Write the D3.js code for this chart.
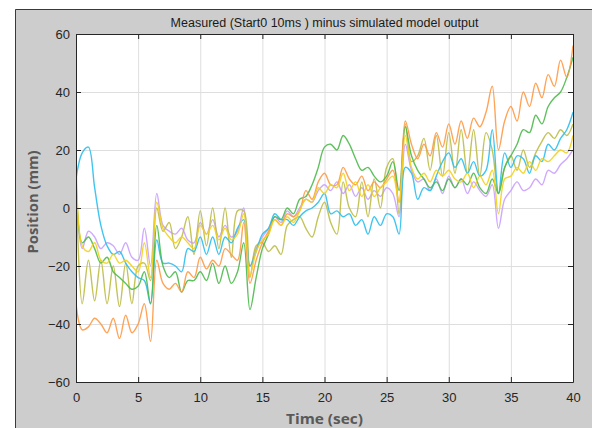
<!DOCTYPE html>
<html>
<head>
<meta charset="utf-8">
<script src="https://cdn.jsdelivr.net/npm/d3@7"></script>
<style>
  body { margin: 0; background: #fff; }
  svg { display: block; }
  .tick text { font-family: "Liberation Sans", Arial, sans-serif; font-size: 13px; fill: #262626; }
</style>
</head>
<body>
<script>
'use strict';

// sample times (sec), one sample every half second
var TIME = d3.range(0, 40.01, 0.5);

var X_TICKS = [0, 5, 10, 15, 20, 25, 30, 35, 40];
var Y_TICKS = [-60, -40, -20, 0, 20, 40, 60];

// position error (mm) per run
var purple = [5, -14, -8, -10, -14, -12, -13, -16, -12, -17, -18, -7, -20,
  5, -6, -8, -9, -7, -11, -12, -5, -9, -4, -10, -6, -10, -8, 0, -20,
  -14, -10, -7, -3, -5, -1, -3, 0, 3, 2, 6, 8, 6, 9, 5, 8, 4, 7, 3, 6,
  4, 7, 5, -3, 22, 13, 9, 10, 6, 10, 5, 11, 7, 10, 5, 9, 6, 4, 8, -7,
  3, 6, 9, 6, 7, 10, 8, 13, 12, 15, 17, 20];

var olive = [10, -33, -18, -32, -18, -33, -20, -34, -19, -33, -20, -19, -25,
  0, -8, -5, -14, -10, -3, -16, -1, -13, 0, -14, 0, -17, -1, -1, -24,
  -13, -12, -15, -13, -16, -6, -4, -3, -7, -10, -3, 2, -5, -9, 9, 0, -3,
  9, -3, 10, 0, 14, 17, -2, 29, 16, 18, 24, 13, 25, 11, 26, 12, 27, 12,
  27, 11, 26, 20, 5, 14, 18, 13, 20, 14, 19, 23, 26, 24, 27, 25, 29];

var cyan = [10, 19, 21, 7, -6, -13, -16, -15, -19, -22, -24, -25, -33,
  -11, -19, -19, -20, -22, -14, -15, -10, -16, -10, -16, -10, -12, -7, -4,
  -20, -15, -9, -7, -2, -4, -4, -6, -3, -1, 0, 2, 5, -2, -1, -3, -2, -6,
  -4, -9, -3, -6, -2, -3, -9, 14, 12, 3, 7, 6, 11, 16, 19, 14, 17, 12,
  16, 11, 13, 27, 5, 19, 14, 18, 17, 12, 18, 16, 22, 20, 24, 27, 33];

var green = [12, -12, -10, -14, -19, -17, -22, -24, -26, -28, -27, -22, -33,
  -6, -20, -24, -22, -29, -25, -25, -22, -25, -19, -26, -20, -26, -22, -12,
  -35, -24, -14, -9, -3, -4, 0, -2, 3, 4, 8, 14, 21, 22, 20, 25, 22, 17,
  13, 14, 11, 9, 11, 16, 6, 28, 18, 13, 10, 7, 9, 6, 10, 7, 10, 8, 12,
  7, 5, 10, 5, 14, 18, 22, 27, 26, 32, 29, 35, 38, 40, 45, 52];

var orange = [-33, -42, -41, -38, -40, -43, -38, -45, -37, -43, -40, -33, -46,
  -18, -26, -28, -26, -29, -22, -24, -17, -21, -18, -20, -14, -16, -18, -5,
  -26, -18, -12, -8, -4, -6, -2, -3, -1, 6, 3, 9, 12, 8, 8, 14, 10, 8, 11,
  6, 9, 7, 10, 13, 2, 30, 22, 17, 22, 18, 26, 21, 29, 22, 30, 24, 31, 28,
  33, 42, 20, 30, 35, 30, 40, 35, 43, 38, 46, 42, 51, 45, 56];

var yellow = [23, -13, -15, -12, -18, -19, -16, -19, -18, -20, -22, -12, -24,
  2, -7, -10, -12, -10, -12, -14, -6, -9, -6, -11, -7, -11, -9, -2, -23,
  -15, -11, -9, -4, -6, -3, -5, -1, 3, 2, 7, 5, 8, 7, 12, 6, 9, 4, 8, 4,
  7, 9, 11, 2, 25, 14, 10, 12, 9, 13, 11, 13, 10, 9, 12, 7, 11, 8, 13, -2,
  10, 11, 14, 12, 16, 13, 17, 16, 18, 20, 19, 25];

var SERIES = [purple, olive, cyan, green, orange, yellow];
var COLORS = ["#c9a0ff", "#bcbc45", "#2bbff0", "#4cba4c", "#ff9a45", "#f3d21a"];

var W = 592, H = 428;
var margin = {top: 34, left: 76, right: 19, bottom: 46};
var width = W - margin.left - margin.right;
var height = H - margin.top - margin.bottom;

var svg = d3.select("body").append("svg")
    .attr("width", W)
    .attr("height", H);

// figure background with its frame
svg.append("rect")
    .attr("x", 15).attr("y", 9)
    .attr("width", W - 15).attr("height", H - 9)
    .attr("fill", "#cdcdcd");
svg.append("path")
    .attr("d", "M15.5," + H + "V9.5H" + W)
    .attr("fill", "none")
    .attr("stroke", "#3a3a3a");

var xScale = d3.scaleLinear().domain([0, 40]).range([0, width]);
var yScale = d3.scaleLinear().domain([-60, 60]).range([height, 0]);

var g = svg.append("g")
    .attr("transform", "translate(" + margin.left + "," + margin.top + ")");

g.append("rect")
    .attr("width", width).attr("height", height)
    .attr("fill", "#fff");

// grid
g.append("g")
    .attr("class", "grid")
    .call(d3.axisBottom(xScale).tickValues(X_TICKS).tickSize(height).tickFormat(""))
    .call(function(s) {
      s.select(".domain").remove();
      s.selectAll("line").attr("stroke", "#dedede");
    });
g.append("g")
    .attr("class", "grid")
    .call(d3.axisLeft(yScale).tickValues(Y_TICKS).tickSize(-width).tickFormat(""))
    .call(function(s) {
      s.select(".domain").remove();
      s.selectAll("line").attr("stroke", "#dedede");
    });

// data
g.append("clipPath").attr("id", "clip")
  .append("rect").attr("width", width).attr("height", height);

var line = d3.line()
    .x(function(d, i) { return xScale(TIME[i]); })
    .y(function(d) { return yScale(d); })
    .curve(d3.curveCatmullRom.alpha(0.5));

g.append("g")
    .attr("clip-path", "url(#clip)")
    .selectAll("path")
    .data(SERIES)
    .enter()
    .append("path")
    .attr("fill", "none")
    .attr("stroke", function(d, i) { return COLORS[i]; })
    .attr("stroke-width", 1.4)
    .attr("stroke-opacity", 0.9)
    .attr("stroke-linejoin", "round")
    .attr("d", line);

// axes, ticks pointing inward
var styleAxis = function(s) {
  s.select(".domain").attr("stroke", "#262626");
  s.selectAll(".tick line").attr("stroke", "#262626");
};

g.append("g")
    .attr("transform", "translate(0," + height + ")")
    .call(d3.axisBottom(xScale).tickValues(X_TICKS).tickSizeInner(-5)
            .tickSizeOuter(0).tickPadding(11))
    .call(styleAxis);

g.append("g")
    .call(d3.axisLeft(yScale).tickValues(Y_TICKS).tickSizeInner(-5)
            .tickSizeOuter(0).tickPadding(6))
    .call(styleAxis);

g.append("g")
    .call(d3.axisTop(xScale).tickValues(X_TICKS).tickSizeInner(-5)
            .tickSizeOuter(0).tickFormat(""))
    .call(styleAxis);

g.append("g")
    .attr("transform", "translate(" + width + ",0)")
    .call(d3.axisRight(yScale).tickValues(Y_TICKS).tickSizeInner(-5)
            .tickSizeOuter(0).tickFormat(""))
    .call(styleAxis);

// labels
svg.append("text")
    .attr("x", margin.left + width / 2)
    .attr("y", 27)
    .attr("text-anchor", "middle")
    .attr("font-family", "Liberation Sans, Arial, sans-serif")
    .attr("font-size", 12.5)
    .attr("fill", "#1a1a1a")
    .text("Measured (Start0 10ms ) minus simulated model output");

svg.append("text")
    .attr("x", margin.left + width / 2)
    .attr("y", 424)
    .attr("text-anchor", "middle")
    .attr("font-family", "Open Sans, sans-serif")
    .attr("font-weight", "bold")
    .attr("font-size", 15)
    .attr("textLength", 77)
    .attr("lengthAdjust", "spacingAndGlyphs")
    .attr("fill", "#595959")
    .text("Time (sec)");

svg.append("text")
    .attr("transform", "translate(38," + (margin.top + height / 2 - 6) + ") rotate(-90)")
    .attr("text-anchor", "middle")
    .attr("font-family", "Open Sans, sans-serif")
    .attr("font-weight", "bold")
    .attr("font-size", 15)
    .attr("textLength", 103)
    .attr("lengthAdjust", "spacingAndGlyphs")
    .attr("fill", "#595959")
    .text("Position (mm)");
</script>
</body>
</html>
